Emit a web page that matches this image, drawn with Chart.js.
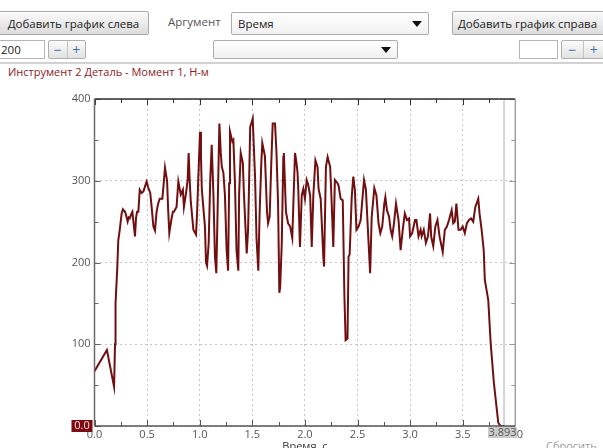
<!DOCTYPE html>
<html>
<head>
<meta charset="utf-8">
<script src="https://cdn.jsdelivr.net/npm/chart.js@4.4.1/dist/chart.umd.min.js"></script>
<style>
body{margin:0;width:603px;height:448px;overflow:hidden;background:#fff;font-family:"Open Sans",sans-serif;font-size:11.5px;color:#222;position:relative}
.a{position:absolute;box-sizing:border-box;white-space:nowrap}
.btn{background:linear-gradient(#fbfbfb,#dcdcdc);border:1px solid #a9a9a9;border-radius:2px;display:flex;align-items:center;justify-content:center}
.combo{background:linear-gradient(#fff,#f1f1f1);border:1px solid #acacac;border-radius:2px;display:flex;align-items:center;padding-left:6px}
.arrow{position:absolute;right:6px;top:50%;margin-top:-3px;width:0;height:0;border-left:5px solid transparent;border-right:5px solid transparent;border-top:6px solid #111}
.inp{background:#fff;border:1px solid #b5b5b5;display:flex;align-items:center;padding-left:2px}
.pm{display:flex;border:1px solid #b0b0b0;border-radius:2px;background:linear-gradient(#fbfbfb,#e2e2e2)}
.pm span{flex:1;display:flex;align-items:center;justify-content:center;color:#3f72a8;font-size:14px}
.pm span+span{border-left:1px solid #c4c4c4}
</style>
</head>
<body>
<div class="a btn" style="left:-2px;top:11px;width:151px;height:24px">Добавить график слева</div>
<div class="a" style="left:168px;top:14px;color:#555">Аргумент</div>
<div class="a combo" style="left:231px;top:12px;width:198px;height:23px">Время<div class="arrow"></div></div>
<div class="a btn" style="left:452px;top:11px;width:160px;height:24px;justify-content:flex-start;padding-left:5px">Добавить график справа</div>

<div class="a inp" style="left:-2px;top:40px;width:47px;height:19px">200</div>
<div class="a pm" style="left:48px;top:40px;width:38px;height:19px"><span>−</span><span>+</span></div>
<div class="a combo" style="left:213px;top:40px;width:185px;height:19px"><div class="arrow"></div></div>
<div class="a inp" style="left:519px;top:40px;width:39px;height:19px"></div>
<div class="a pm" style="left:561px;top:40px;width:44px;height:19px"><span>−</span><span>+</span></div>
<div class="a" style="left:0;top:62px;width:603px;height:2px;background:#d2d2d2"></div>

<div class="a" style="left:8px;top:64px;color:#8a1c24;font-size:11px">Инструмент 2 Деталь - Момент 1, Н-м</div>
<div class="a" style="left:546px;top:438px;color:#9a9a9a;font-size:11px">Сбросить</div>

<div class="a" style="left:0;top:80px;width:603px;height:380px"><canvas id="chart"></canvas></div>

<script>
const times = [
  0.000, 0.118, 0.186, 0.195, 0.200, 0.217, 0.226, 0.240, 0.258, 0.270,
  0.290, 0.300, 0.315, 0.325, 0.335, 0.345, 0.360, 0.370, 0.385, 0.395,
  0.405, 0.417, 0.430, 0.448, 0.465, 0.485, 0.496, 0.510, 0.530, 0.543,
  0.560, 0.575, 0.590, 0.605, 0.620, 0.645, 0.660, 0.670, 0.690, 0.700,
  0.711, 0.730, 0.745, 0.755, 0.780, 0.797, 0.810, 0.820, 0.840, 0.850,
  0.870, 0.885, 0.895, 0.905, 0.915, 0.940, 0.965, 0.975, 0.985, 1.003,
  1.012, 1.020, 1.034, 1.050, 1.060, 1.070, 1.085, 1.100, 1.114, 1.130,
  1.145, 1.158, 1.170, 1.187, 1.200, 1.210, 1.225, 1.240, 1.256, 1.270,
  1.280, 1.288, 1.310, 1.320, 1.335, 1.350, 1.367, 1.375, 1.390, 1.410,
  1.420, 1.447, 1.460, 1.470, 1.480, 1.495, 1.504, 1.515, 1.526, 1.540,
  1.557, 1.570, 1.585, 1.595, 1.620, 1.640, 1.650, 1.665, 1.680, 1.694,
  1.716, 1.730, 1.745, 1.757, 1.765, 1.780, 1.795, 1.800, 1.820, 1.840,
  1.860, 1.880, 1.906, 1.920, 1.930, 1.937, 1.953, 1.970, 1.985, 2.000,
  2.017, 2.030, 2.050, 2.065, 2.080, 2.100, 2.120, 2.130, 2.150, 2.175,
  2.182, 2.200, 2.216, 2.240, 2.250, 2.270, 2.285, 2.310, 2.320, 2.340,
  2.360, 2.375, 2.387, 2.405, 2.415, 2.425, 2.430, 2.445, 2.460, 2.475,
  2.490, 2.510, 2.530, 2.562, 2.580, 2.595, 2.620, 2.635, 2.660, 2.680,
  2.700, 2.717, 2.735, 2.755, 2.765, 2.780, 2.800, 2.815, 2.830, 2.847,
  2.866, 2.890, 2.910, 2.930, 2.950, 2.970, 2.990, 3.000, 3.020, 3.047,
  3.060, 3.080, 3.100, 3.110, 3.130, 3.150, 3.170, 3.190, 3.200, 3.220,
  3.240, 3.260, 3.280, 3.310, 3.330, 3.350, 3.370, 3.395, 3.410, 3.425,
  3.440, 3.460, 3.480, 3.500, 3.520, 3.540, 3.560, 3.580, 3.600, 3.620,
  3.648, 3.660, 3.680, 3.700, 3.710, 3.743, 3.766, 3.797, 3.838, 3.860,
  3.893
];
const torque = [
  67, 93, 48, 100, 150, 195, 227, 240, 260, 265,
  262, 258, 250, 255, 254, 258, 262, 250, 232, 255,
  262, 262, 289, 285, 287, 295, 299, 292, 285, 268,
  244, 239, 262, 272, 278, 278, 300, 316, 300, 265,
  236, 252, 262, 262, 268, 299, 290, 283, 289, 268,
  285, 300, 334, 300, 275, 240, 234, 260, 297, 360,
  330, 290, 268, 244, 200, 196, 223, 300, 344, 285,
  207, 187, 262, 370, 335, 317, 310, 282, 215, 190,
  297, 360, 348, 350, 298, 215, 190, 285, 334, 322,
  285, 211, 240, 300, 366, 372, 376, 340, 305, 230,
  190, 262, 320, 346, 330, 262, 248, 256, 320, 370,
  370, 334, 272, 163, 170, 223, 329, 334, 262, 248,
  244, 230, 334, 322, 310, 290, 219, 282, 290, 278,
  301, 296, 282, 219, 282, 325, 317, 290, 278, 207,
  195, 317, 329, 317, 288, 219, 301, 297, 294, 278,
  276, 162, 105, 107, 207, 210, 226, 280, 305, 289,
  240, 244, 252, 301, 289, 250, 187, 256, 291, 282,
  248, 236, 244, 272, 280, 264, 256, 240, 232, 248,
  272, 252, 215, 240, 260, 252, 254, 232, 236, 252,
  252, 232, 240, 232, 240, 224, 232, 260, 232, 220,
  244, 252, 232, 213, 240, 244, 252, 264, 248, 250,
  272, 240, 240, 244, 236, 248, 252, 254, 250, 268,
  278, 260, 240, 215, 179, 154, 101, 52, 4, 0,
  0
];
const cursorTime = 3.893;
const cursorValue = 0;

const isMajor = (v, step) => Math.abs(v / step - Math.round(v / step)) < 1e-6;
const tickFont = {family: '"Open Sans", sans-serif', size: 11};

// inward tick marks, frame, cursor markers
const frame = {
  id: 'frame',
  beforeDatasetsDraw(chart) {
    const {ctx, chartArea: a, scales: {x}} = chart;
    const cx = x.getPixelForValue(cursorTime);
    ctx.save();
    ctx.strokeStyle = '#d6d6d6';
    ctx.lineWidth = 2;
    ctx.beginPath();
    ctx.moveTo(cx, a.top);
    ctx.lineTo(cx, a.bottom);
    ctx.stroke();
    ctx.restore();
  },
  afterDraw(chart) {
    const {ctx, chartArea: a, scales: {x, y}} = chart;
    ctx.save();
    ctx.lineWidth = 1;
    x.ticks.forEach(t => {
      const px = Math.round(x.getPixelForValue(t.value)) + 0.5;
      const len = isMajor(t.value, 0.5) ? 6 : 4;
      ctx.strokeStyle = '#555';
      ctx.beginPath(); ctx.moveTo(px, a.bottom); ctx.lineTo(px, a.bottom - len); ctx.stroke();
      ctx.strokeStyle = '#333';
      ctx.beginPath(); ctx.moveTo(px, a.top); ctx.lineTo(px, a.top + len); ctx.stroke();
    });
    y.ticks.forEach(t => {
      const py = Math.round(y.getPixelForValue(t.value)) + 0.5;
      const len = isMajor(t.value, 100) ? 6 : 4;
      ctx.strokeStyle = '#666';
      ctx.beginPath(); ctx.moveTo(a.left, py); ctx.lineTo(a.left + len, py); ctx.stroke();
      ctx.strokeStyle = '#999';
      ctx.beginPath(); ctx.moveTo(a.right, py); ctx.lineTo(a.right - len, py); ctx.stroke();
    });
    ctx.lineWidth = 1.5;
    ctx.strokeStyle = '#2e2e2e';
    ctx.beginPath(); ctx.moveTo(a.left, a.top); ctx.lineTo(a.right, a.top); ctx.stroke();
    ctx.strokeStyle = '#a0a0a0';
    ctx.beginPath(); ctx.moveTo(a.right, a.top); ctx.lineTo(a.right, a.bottom); ctx.stroke();
    ctx.strokeStyle = '#6a6a6a';
    ctx.beginPath(); ctx.moveTo(a.left, a.top); ctx.lineTo(a.left, a.bottom); ctx.stroke();
    ctx.strokeStyle = '#555';
    ctx.beginPath(); ctx.moveTo(a.left, a.bottom); ctx.lineTo(a.right, a.bottom); ctx.stroke();

    ctx.font = '11px "Open Sans", sans-serif';
    ctx.textAlign = 'center';
    ctx.textBaseline = 'middle';
    // value marker on y axis
    const vy = y.getPixelForValue(cursorValue);
    ctx.fillStyle = '#7c0b13';
    ctx.fillRect(a.left - 23, vy - 6, 21, 12);
    ctx.fillStyle = '#f4dede';
    ctx.fillText('0.0', a.left - 12.5, vy);
    // time marker on x axis
    const cx = x.getPixelForValue(cursorTime);
    ctx.fillStyle = '#cbcbcb';
    ctx.fillRect(cx - 16, a.bottom + 1, 29, 11);
    ctx.fillStyle = '#555';
    ctx.fillText('3.893', cx - 1.5, a.bottom + 6.5);
    ctx.restore();
  }
};

new Chart(document.getElementById('chart'), {
  type: 'line',
  data: {
    labels: times,
    datasets: [{
      data: times.map((t, i) => ({x: t, y: torque[i]})),
      borderColor: '#710f10',
      borderWidth: 2,
      pointRadius: 0,
      tension: 0
    }]
  },
  options: {
    animation: false,
    responsive: true,
    maintainAspectRatio: false,
    layout: {padding: {top: 19, right: 87.7, left: 0, bottom: 0}},
    plugins: {legend: {display: false}, tooltip: {enabled: false}},
    scales: {
      x: {
        type: 'linear', min: 0, max: 4,
        ticks: {
          stepSize: 0.25, autoSkip: false, maxRotation: 0, padding: 2,
          color: '#555', font: tickFont,
          callback: v => isMajor(v, 0.5) ? v.toFixed(1) : ''
        },
        grid: {
          drawTicks: false, lineWidth: 1,
          color: c => c.tick && isMajor(c.tick.value, 0.5) ? '#c6c6c6' : 'rgba(0,0,0,0)'
        },
        border: {display: false, dash: [2, 3]},
        title: {display: true, text: 'Время, с', color: '#333', font: tickFont, padding: {top: 0, bottom: 7}},
        afterFit: s => { s.height = 34; }
      },
      y: {
        min: 0, max: 400,
        ticks: {
          stepSize: 50, autoSkip: false, padding: 4,
          color: '#555', font: tickFont,
          callback: v => isMajor(v, 100) && v > 0 ? String(v) : ''
        },
        grid: {
          drawTicks: false, lineWidth: 1,
          color: c => c.tick && isMajor(c.tick.value, 100) ? '#c6c6c6' : 'rgba(0,0,0,0)'
        },
        border: {display: false, dash: [2, 3]},
        afterFit: s => { s.width = 94.5; }
      }
    }
  },
  plugins: [frame]
});
</script>
</body>
</html>
